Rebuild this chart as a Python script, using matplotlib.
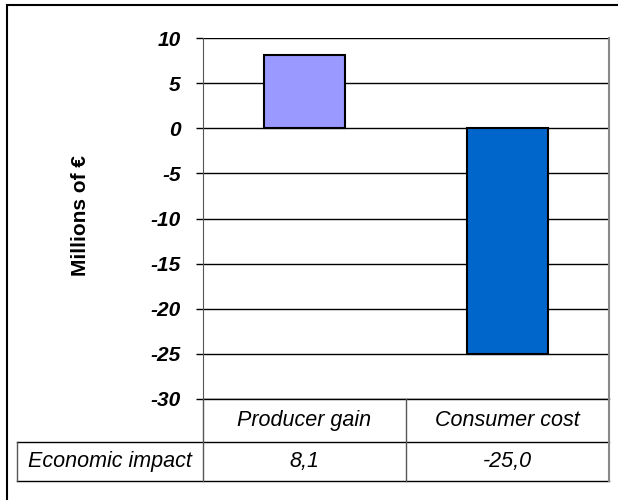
import matplotlib
matplotlib.use('Agg')
import matplotlib.pyplot as plt
from matplotlib.lines import Line2D
from matplotlib.patches import Rectangle

plt.rcParams['font.family'] = ['Liberation Sans', 'DejaVu Sans']

categories = ['Producer gain', 'Consumer cost']
values = [8.1, -25.0]
value_labels = ['8,1', '-25,0']
row_label = 'Economic impact'
bar_colors = ['#9999FF', '#0066CC']
yticks = [10, 5, 0, -5, -10, -15, -20, -25, -30]

W, H = 618, 500
fig = plt.figure(figsize=(W / 100, H / 100), dpi=100)


def fx(px):
    return px / W


def fy(py):
    return 1 - py / H


# plot area in pixel coordinates
left, right, top, bottom = 203, 609, 38, 399
ax = fig.add_axes([fx(left), fy(bottom), fx(right) - fx(left), fy(top) - fy(bottom)])

x = range(len(categories))
ax.bar(x, values, width=0.4, color=bar_colors, edgecolor='black', linewidth=1.5, zorder=3)
ax.set_xlim(-0.5, len(categories) - 0.5)
ax.set_ylim(-30, 10)
ax.set_yticks(yticks)
ax.set_yticklabels([str(t) for t in yticks], fontsize=15, fontweight='bold', fontstyle='italic')
ax.tick_params(axis='y', length=5, width=1, pad=11)
ax.set_xticks([])
ax.yaxis.grid(True, color='black', linewidth=1, zorder=0)
for side in ['top', 'bottom']:
    ax.spines[side].set_visible(False)
ax.spines['left'].set_color('#555555')
ax.spines['right'].set_color('#888888')
ax.spines['right'].set_linewidth(1.5)

fig.text(fx(80), fy(216), 'Millions of €', rotation=90, ha='center', va='center',
         fontsize=15, fontweight='bold')

# data table under the chart
row1, row2, row3 = 399, 442, 481
tleft = 17
mid = (left + right) / 2


def hline(x0, x1, y, color='black', lw=1):
    fig.add_artist(Line2D([fx(x0), fx(x1)], [fy(y), fy(y)], color=color, lw=lw))


def vline(xp, y0, y1, color='#555555', lw=1):
    fig.add_artist(Line2D([fx(xp), fx(xp)], [fy(y0), fy(y1)], color=color, lw=lw))


hline(left, right, row1)
hline(tleft, right, row2)
hline(tleft, right, row3)
vline(left, row1, row3)
vline(mid, row1, row3)
vline(right, row1, row3, color='#888888', lw=1.5)
vline(tleft, row2, row3)

for i, (cat, lab) in enumerate(zip(categories, value_labels)):
    cx = left + (i + 0.5) * (right - left) / 2
    fig.text(fx(cx), fy((row1 + row2) / 2), cat, ha='center', va='center',
             fontsize=15.5, fontstyle='italic')
    fig.text(fx(cx), fy((row2 + row3) / 2), lab, ha='center', va='center',
             fontsize=15.5, fontstyle='italic')
fig.text(fx((tleft + left) / 2), fy((row2 + row3) / 2), row_label, ha='center', va='center',
         fontsize=15.5, fontstyle='italic')

# outer chart frame
fig.add_artist(Rectangle((fx(7), -0.05), fx(618 + 20) - fx(7), fy(5) + 0.05,
                         transform=fig.transFigure, fill=False, edgecolor='black', lw=1.5))

fig.savefig('out.png', dpi=100)
